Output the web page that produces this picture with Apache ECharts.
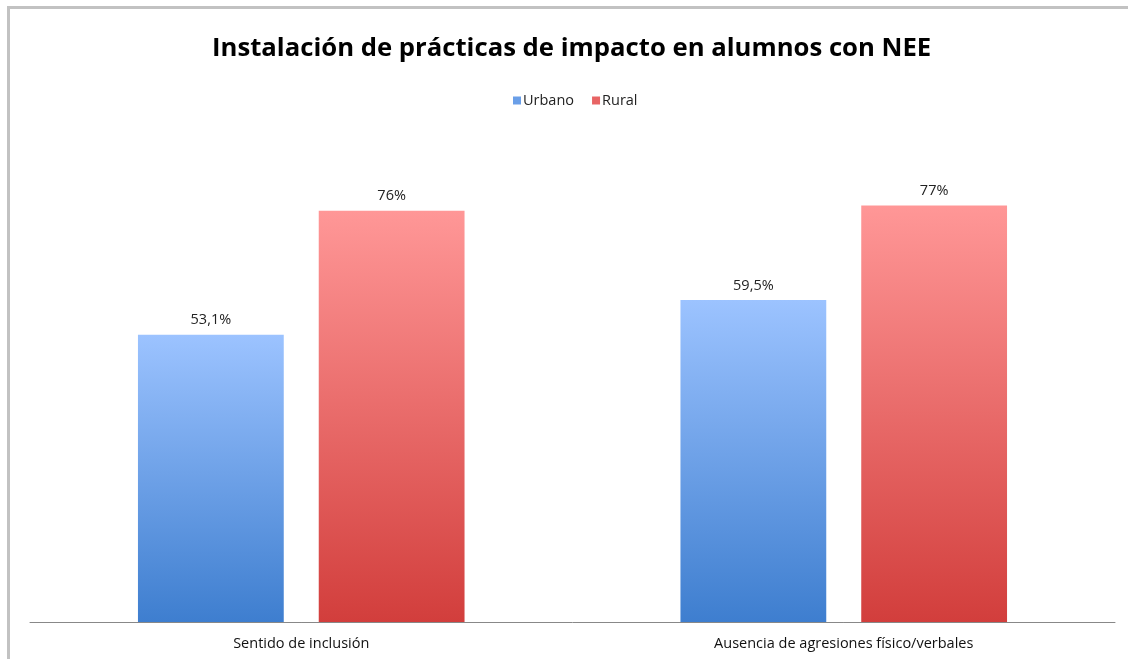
<!DOCTYPE html>
<html>
<head>
<meta charset="utf-8">
<script src="https://cdn.jsdelivr.net/npm/echarts@6/dist/echarts.min.js"></script>
<style>
html,body{margin:0;padding:0;background:#fff;}
#chart{position:absolute;left:0;top:0;width:1128px;height:659px;}
#frame{position:absolute;left:7px;top:6px;width:1128px;height:700px;border-top:3px solid #c2c2c2;border-left:3px solid #c2c2c2;pointer-events:none;box-sizing:border-box;}
</style>
</head>
<body>
<div id="chart"></div>
<div id="frame"></div>
<script>
const titleText = 'Instalación de prácticas de impacto en alumnos con NEE';
const categories = ['Sentido de inclusión', 'Ausencia de agresiones físico/verbales'];
const seriesNames = ['Urbano', 'Rural'];
const urbano = [53.1, 59.5];
const rural = [76, 77];
const urbanoLabels = ['53,1%', '59,5%'];
const ruralLabels = ['76%', '77%'];

function grad(top, bottom) {
  return new echarts.graphic.LinearGradient(0, 0, 0, 1, [
    {offset: 0, color: top}, {offset: 1, color: bottom}
  ]);
}

const chart = echarts.init(document.getElementById('chart'));
chart.setOption({
  animation: false,
  backgroundColor: 'transparent',
  title: {
    text: titleText,
    left: 207,
    top: 31,
    textStyle: {fontFamily: 'Open Sans', fontWeight: 'bold', fontSize: 25.7, color: '#000'}
  },
  legend: {
    top: 88,
    left: 508,
    itemWidth: 8,
    itemHeight: 8,
    itemGap: 18,
    icon: 'rect',
    textStyle: {fontFamily: 'Open Sans', fontSize: 14.5, color: '#222', padding: [0,0,0,-3]},
    data: [
      {name: seriesNames[0], itemStyle: {color: '#6a9fe8'}},
      {name: seriesNames[1], itemStyle: {color: '#e86464'}}
    ]
  },
  grid: {left: 30, right: 13, top: 81, bottom: 37, containLabel: false},
  xAxis: {
    type: 'category',
    data: categories,
    axisLine: {lineStyle: {color: '#888', width: 1}},
    axisTick: {show: false},
    axisLabel: {fontFamily: 'Open Sans', fontSize: 14.5, color: '#111', margin: 14}
  },
  yAxis: {
    type: 'value', min: 0, max: 100, show: false
  },
  series: [
    {
      name: seriesNames[0], type: 'bar', data: urbano,
      barGap: '24%', barCategoryGap: '39.8%',
      itemStyle: {color: grad('#9cc3ff', '#3e7ecf')},
      label: {show: true, position: 'top', distance: 7, fontFamily: 'Open Sans', fontSize: 14.5, color: '#222',
        formatter: p => urbanoLabels[p.dataIndex]}
    },
    {
      name: seriesNames[1], type: 'bar', data: rural,
      itemStyle: {color: grad('#ff9797', '#d23e3c')},
      label: {show: true, position: 'top', distance: 7, fontFamily: 'Open Sans', fontSize: 14.5, color: '#222',
        formatter: p => ruralLabels[p.dataIndex]}
    }
  ]
});
</script>
</body>
</html>
